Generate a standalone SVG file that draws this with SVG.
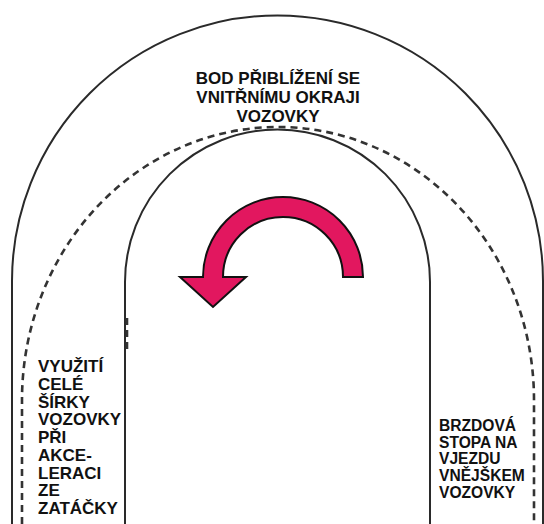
<svg xmlns="http://www.w3.org/2000/svg" width="544" height="524" viewBox="0 0 544 524">
<style>
.edge{fill:none;stroke:#2a2a2a;stroke-width:2}
.dash{fill:none;stroke:#333;stroke-width:2.6;stroke-dasharray:7 5}
.lbl{font-family:"Liberation Sans",Arial,sans-serif;font-weight:bold;fill:#111}
.arrow{fill:#e2175f;stroke:#111;stroke-width:2;stroke-linejoin:miter}
</style>
<rect width="544" height="524" fill="#fff"/>
<g id="road">
<path id="outer-edge" class="edge" d="M12,524 L12,281 A265.5,265.5 0 0 1 543,281 L543,524"/>
<path id="inner-edge" class="edge" d="M125,524 L125,282 A152.5,152.5 0 0 1 430,282 L430,524"/>
</g>
<g id="racing-line">
<path class="dash" d="M22,524 L22,400 A256,273 0 0 1 534,400 L534,524"/>
<path class="dash" d="M127,318 L127,350" stroke-width="2"/>
</g>
<g id="turn-arrow">
<path class="arrow" d="M363,277 A80,80 0 0 0 203,277 L180,277 L213,307 L246,277 L223,277 A60,60 0 0 1 343,277 Z"/>
</g>
<g id="label-apex" class="lbl" font-size="17" text-anchor="middle">
<text x="278" y="84">BOD PŘIBLÍŽENÍ SE</text>
<text x="278" y="103">VNITŘNÍMU OKRAJI</text>
<text x="278" y="122">VOZOVKY</text>
</g>
<g id="label-exit" class="lbl" font-size="17">
<text x="38" y="372">VYUŽITÍ</text>
<text x="38" y="389.75">CELÉ</text>
<text x="38" y="407.5">ŠÍRKY</text>
<text x="38" y="425.25">VOZOVKY</text>
<text x="38" y="443">PŘI</text>
<text x="38" y="460.75">AKCE-</text>
<text x="38" y="478.5">LERACI</text>
<text x="38" y="496.25">ZE</text>
<text x="38" y="514">ZATÁČKY</text>
</g>
<g id="label-braking" class="lbl" font-size="15.6">
<text x="439" y="431">BRZDOVÁ</text>
<text x="439" y="447.7">STOPA NA</text>
<text x="439" y="464.4">VJEZDU</text>
<text x="439" y="481.1">VNĚJŠKEM</text>
<text x="439" y="497.8">VOZOVKY</text>
</g>
</svg>
